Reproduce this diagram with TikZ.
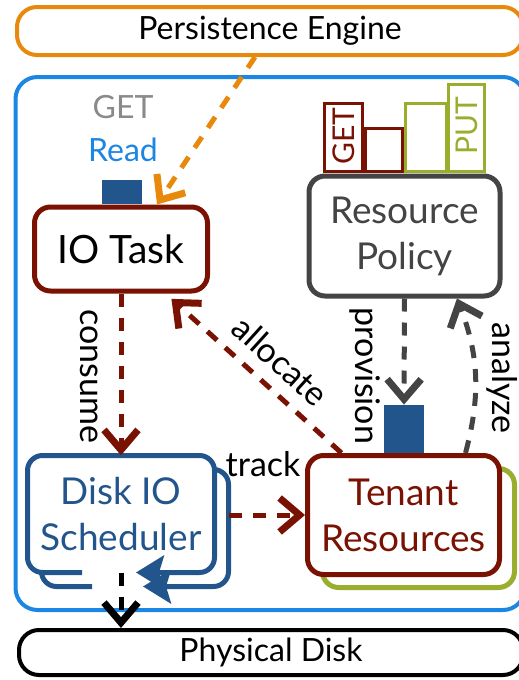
\documentclass[tikz,border=0pt]{standalone}
\usepackage{fontspec}
\setmainfont{Lato}
\usetikzlibrary{positioning, arrows.meta}
\definecolor{engOrange}{HTML}{E8890C}
\definecolor{frameBlue}{HTML}{1B86E3}
\definecolor{taskRed}{HTML}{7A1204}
\definecolor{schedBlue}{HTML}{22558C}
\definecolor{policyGray}{HTML}{444444}
\definecolor{tenantGreen}{HTML}{9AAD2C}
\definecolor{getGray}{HTML}{8A8A8A}

\begin{document}
\begin{tikzpicture}[x=1pt, y=-1pt,
  unitbox/.style={draw, fill=white, rounded corners=16pt, line width=5pt, align=center, inner sep=0pt},
  barbox/.style={draw, fill=white, line width=3pt},
  portbox/.style={fill=schedBlue, inner sep=0pt, minimum width=40pt, minimum height=#1},
  mainfont/.style={font=\fontsize{32}{46}\selectfont},
  boxfont/.style={font=\fontsize{37}{46}\selectfont},
  flow/.style={line width=5pt, dash pattern=on 13pt off 11pt,
    -{Straight Barb[length=20pt, width=34pt, line width=7pt]}},
  flowlabel/.style={font=\fontsize{34}{38}\selectfont, text=black, inner sep=0pt},
  queuetip/.style={-{Stealth[length=28pt, width=34pt, inset=5pt]}}
]
  %% --- geometria (unita': pixel del riferimento) ---
  \useasboundingbox (0,0) rectangle (519,680);

  %% --- cornice del nodo di storage ---
  \draw[frameBlue, line width=4pt, rounded corners=22pt] (15.5,77) rectangle (525,610);

  %% --- livelli esterni ---
  \node[unitbox, mainfont, draw=engOrange, line width=4pt, rounded corners=20pt,
    minimum width=506pt, minimum height=48pt] (persist) at (270,31) {Persistence Engine};
  \node[unitbox, mainfont, draw=black, line width=4pt, rounded corners=20pt,
    minimum width=504pt, minimum height=45pt] (disk) at (271,652.5) {Physical Disk};

  %% --- IO Task con la porta di ingresso ---
  \node[font=\fontsize{32}{36}\selectfont, text=getGray] (getlbl) at (123,107) {GET};
  \node[font=\fontsize{32}{36}\selectfont, text=frameBlue] (readlbl) at (123,150) {Read};
  \node[unitbox, draw=taskRed, font=\fontsize{39}{42}\selectfont,
    minimum width=173pt, minimum height=84pt] (iotask) at (121,249) {IO Task};
  \node[portbox=24pt, anchor=south] (ioport) at (122,204) {};

  %% --- Resource Policy e istogramma GET/PUT ---
  \draw[barbox, draw=taskRed] (324.5,103.5) rectangle (362.5,171);
  \draw[barbox, draw=taskRed] (365.5,128.5) rectangle (402.5,171);
  \draw[barbox, draw=tenantGreen] (405.5,103.5) rectangle (446.5,171);
  \draw[barbox, draw=tenantGreen] (448.5,84.5) rectangle (484.5,171);
  \node[font=\fontsize{30}{32}\selectfont, text=taskRed, rotate=90] (getbar) at (343.5,136) {GET};
  \node[font=\fontsize{30}{32}\selectfont, text=tenantGreen, rotate=90] (putbar) at (466.5,126) {PUT};
  \node[unitbox, boxfont, draw=policyGray, text=policyGray,
    minimum width=191pt, minimum height=120pt] (policy) at (404.5,236) {Resource\\Policy};

  %% --- Disk IO Scheduler: due code con freccia di rientro ---
  \draw[schedBlue, line width=5pt, rounded corners=15pt, queuetip]
    (92,586.5) -- (41.5,586.5) -- (41.5,469.5) -- (228.5,469.5) -- (228.5,586.5) -- (143,586.5);
  \node[minimum width=187pt, minimum height=117pt] (schedbk) at (135,528) {};
  \node[fill=white, boxfont, text=schedBlue, align=center, inner sep=0pt,
    minimum width=187pt, minimum height=117pt] (sched) at (121,514) {Disk IO\\Scheduler};
  \draw[schedBlue, line width=5pt, rounded corners=15pt, queuetip]
    (82,572.5) -- (27.5,572.5) -- (27.5,455.5) -- (214.5,455.5) -- (214.5,572.5) -- (136,572.5);

  %% --- Tenant Resources (con copia in verde dietro) ---
  \draw[tenantGreen, line width=5pt, rounded corners=16pt] (322.5,468.5) rectangle (514.5,587.5);
  \node[unitbox, boxfont, draw=taskRed, text=taskRed,
    minimum width=192pt, minimum height=119pt] (tenant) at (403.5,515) {Tenant\\Resources};
  \node[portbox=48pt, anchor=south] (tenantport) at (404,453) {};

  %% --- flussi ---
  \draw[flow, engOrange] (persist.-120) -- (iotask.51);
  \draw[flow, taskRed] (iotask.south) -- (sched.north);
  \node[flowlabel, rotate=-90] (lblconsume) at (89,376) {consume};
  \draw[flow, taskRed, shorten >=8pt] (tenant.135) -- (iotask.-45)
    node[flowlabel, pos=0.45, sloped, above=12pt] (lblalloc) {allocate};
  \draw[flow, taskRed] (schedbk.east |- tenant.west) -- (tenant.west)
    node[flowlabel, pos=0.45, above=36pt] (lbltrack) {track};
  \draw[flow, policyGray] (policy.south) -- (tenantport.north);
  \node[flowlabel, rotate=-90] (lblprov) at (365,376) {provision};
  \draw[flow, policyGray] (tenant.45) to[bend right=18] (policy.-50);
  \node[flowlabel, rotate=-90] (lblanalyze) at (502,378) {analyze};
  \draw[flow, black] (sched.south) -- (sched.south |- disk.north);
\end{tikzpicture}
\end{document}
